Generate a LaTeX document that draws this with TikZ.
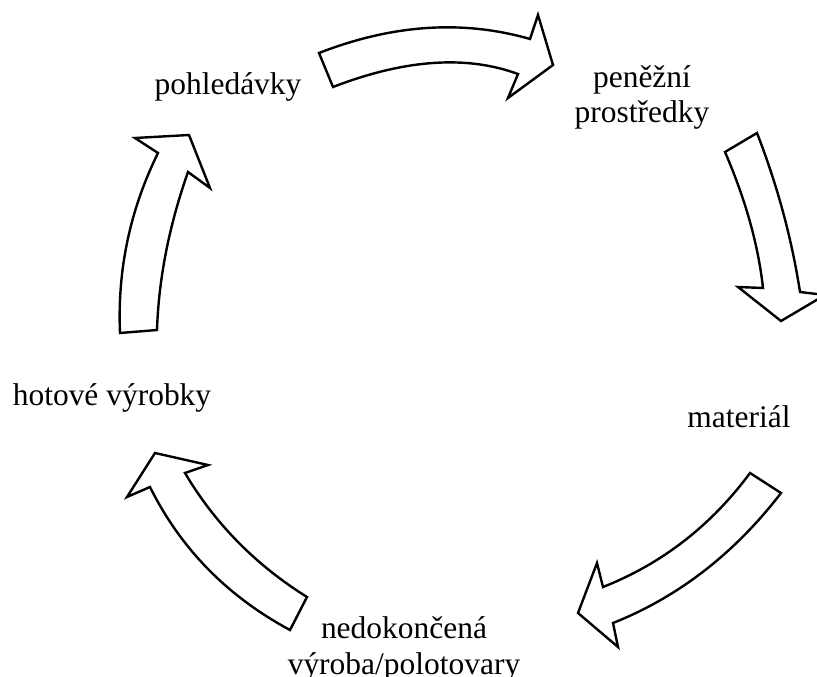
\documentclass[tikz,border=0pt]{standalone}
\usepackage{fontspec}
\setmainfont{Liberation Serif}
\usepackage{tikz}
\usetikzlibrary{positioning, calc}

\begin{document}
\begin{tikzpicture}[
    x=0.75pt, y=-0.75pt,              % <── one unit = one pixel of the sketch
    txt_node/.style={anchor=base, align=center, inner sep=0pt,
                     font=\fontsize{23.6}{26.3}\selectfont},
    arr_shape/.style={draw, line width=1.8pt, fill=white, line join=miter}
    ]
    \useasboundingbox (0,0) rectangle (817,677);

    % Nodes (labels round the cycle; base = last line)
    \node[txt_node] (pohl) at (228,95) {pohledávky};
    \node[txt_node] (pen)  at (642,123) {peněžní\\prostředky};
    \node[txt_node] (mat)  at (739,427) {materiál};
    \node[txt_node] (ned)  at (404,674) {nedokončená\\výroba/polotovary};
    \node[txt_node] (hot)  at (112,405) {hotové výrobky};

    % Block arrows between them
    \draw[arr_shape] (319,53) .. controls (392.7,24.3) and (463,19.7) .. (530,39)
        -- (538,15) -- (553,65) -- (508,98) -- (518,74)
        .. controls (466.3,55) and (404.7,59.3) .. (333,87) -- cycle;
    \draw[arr_shape] (757,133) .. controls (777.3,185.3) and (791.7,238.3) .. (800,292)
        -- (825,295) -- (781,321) -- (738,287) -- (763,288)
        .. controls (758.3,245.3) and (745.7,200) .. (725,152) -- cycle;
    \draw[arr_shape] (750,473) .. controls (711,525.7) and (662,563.7) .. (603,587)
        -- (597,563) -- (578,613) -- (618,647) -- (613,623)
        .. controls (678.3,597) and (734.3,553.7) .. (781,493) -- cycle;
    \draw[arr_shape] (290,630) .. controls (227.3,596.3) and (180.7,548.7) .. (150,487)
        -- (127,497) -- (155,453) -- (208,465) -- (185,473)
        .. controls (215,523.7) and (255.7,565) .. (307,597) -- cycle;
    \draw[arr_shape] (120,333) .. controls (117.3,269.8) and (130,209.8) .. (158,153)
        -- (135,138) -- (189,135) -- (210,188) -- (188,172)
        .. controls (169,226) and (158.7,278.7) .. (157,330) -- cycle;
\end{tikzpicture}
\end{document}
